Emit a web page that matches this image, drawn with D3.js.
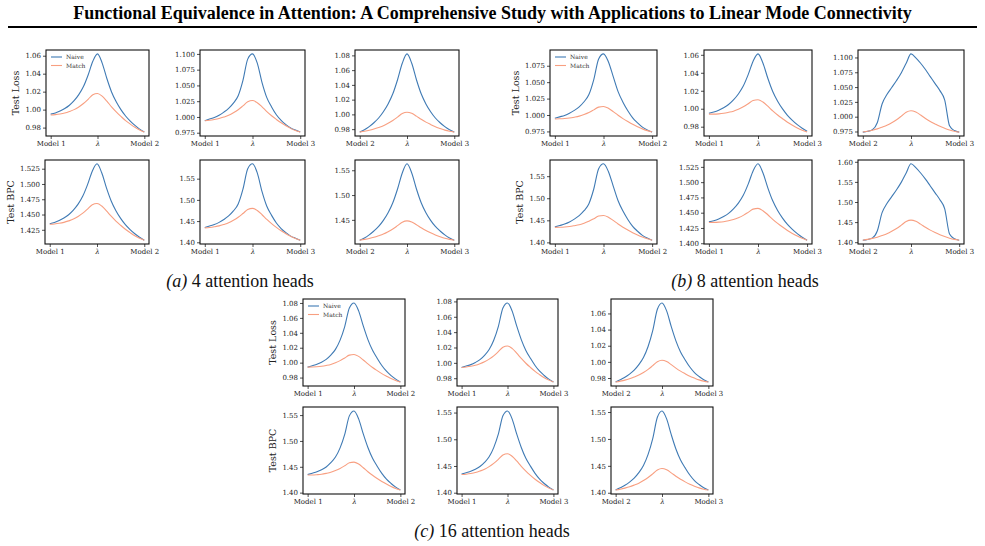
<!DOCTYPE html>
<html>
<head>
<meta charset="utf-8">
<script src="https://d3js.org/d3.v7.min.js"></script>
<style>
  body { margin: 0; background: #fff; }
  text.tk { font-family: "DejaVu Serif", serif; font-size: 7px; fill: #222; }
  text.yl { font-family: "DejaVu Serif", serif; font-size: 9.5px; fill: #222; }
  text.lg { font-family: "DejaVu Serif", serif; font-size: 6px; fill: #333; }
  text.cap { font-family: "Liberation Serif", serif; font-size: 18px; fill: #111; }
  text.ttl { font-family: "Liberation Serif", serif; font-size: 18px; font-weight: bold; fill: #000; }
</style>
</head>
<body>
<div id="chartHere"></div>
<script>
// interpolation coefficient along the path between two models
var lambdas = [0, 0.05, 0.1, 0.15, 0.2, 0.25, 0.3, 0.35, 0.4, 0.45, 0.5,
               0.55, 0.6, 0.65, 0.7, 0.75, 0.8, 0.85, 0.9, 0.95, 1];

var seriesNames = ['Naive', 'Match'];

// ---- (a) 4 attention heads ----
var a1Naive = [0.9950,0.9963,0.9984,1.0012,1.0049,1.0100,1.0167,1.0257,1.0386,1.0538,1.0620,1.0518,1.0346,1.0197,1.0087,1.0000,0.9929,0.9872,0.9824,0.9783,0.9750];
var a1Match = [0.9940,0.9944,0.9951,0.9962,0.9979,1.0000,1.0030,1.0068,1.0115,1.0166,1.0180,1.0150,1.0094,1.0031,0.9975,0.9925,0.9878,0.9839,0.9803,0.9773,0.9750];
var a2Naive = [0.9940,0.9966,0.9991,1.0028,1.0077,1.0137,1.0220,1.0337,1.0581,1.0917,1.1000,1.0853,1.0545,1.0306,1.0159,1.0035,0.9946,0.9879,0.9824,0.9792,0.9760];
var a2Match = [0.9940,0.9947,0.9959,0.9975,0.9998,1.0026,1.0066,1.0115,1.0176,1.0240,1.0260,1.0226,1.0160,1.0085,1.0019,0.9961,0.9907,0.9861,0.9819,0.9785,0.9760];
var a3Naive = [0.9760,0.9792,0.9834,0.9887,0.9951,1.0036,1.0142,1.0279,1.0470,1.0693,1.0820,1.0693,1.0470,1.0279,1.0142,1.0036,0.9951,0.9887,0.9834,0.9792,0.9760];
var a3Match = [0.9760,0.9771,0.9784,0.9801,0.9822,0.9846,0.9879,0.9917,0.9963,1.0011,1.0030,1.0014,0.9976,0.9933,0.9895,0.9863,0.9833,0.9809,0.9787,0.9771,0.9760];
var a4Naive = [1.4350,1.4370,1.4401,1.4443,1.4497,1.4572,1.4670,1.4802,1.4989,1.5210,1.5330,1.5183,1.4935,1.4721,1.4562,1.4437,1.4335,1.4254,1.4185,1.4127,1.4080];
var a4Match = [1.4340,1.4346,1.4356,1.4372,1.4396,1.4425,1.4469,1.4522,1.4589,1.4660,1.4680,1.4639,1.4560,1.4472,1.4393,1.4324,1.4259,1.4204,1.4153,1.4112,1.4080];
var a5Naive = [1.4350,1.4385,1.4419,1.4470,1.4538,1.4622,1.4739,1.4905,1.5253,1.5733,1.5850,1.5637,1.5193,1.4848,1.4635,1.4455,1.4325,1.4227,1.4146,1.4098,1.4050];
var a5Match = [1.4340,1.4350,1.4366,1.4387,1.4421,1.4461,1.4519,1.4589,1.4678,1.4772,1.4800,1.4749,1.4650,1.4539,1.4440,1.4352,1.4271,1.4202,1.4140,1.4089,1.4050];
var a6Naive = [1.4090,1.4136,1.4198,1.4275,1.4367,1.4490,1.4644,1.4845,1.5122,1.5445,1.5630,1.5445,1.5122,1.4845,1.4644,1.4490,1.4367,1.4275,1.4198,1.4136,1.4090];
var a6Match = [1.4090,1.4106,1.4125,1.4149,1.4180,1.4215,1.4262,1.4316,1.4383,1.4453,1.4480,1.4457,1.4402,1.4340,1.4285,1.4238,1.4195,1.4160,1.4129,1.4106,1.4090];

// ---- (b) 8 attention heads ----
var b1Naive = [0.9950,0.9972,0.9994,1.0027,1.0071,1.0125,1.0202,1.0311,1.0539,1.0854,1.0930,1.0811,1.0584,1.0356,1.0194,1.0064,0.9956,0.9880,0.9815,0.9772,0.9740];
var b1Match = [0.9940,0.9942,0.9946,0.9954,0.9967,0.9983,1.0008,1.0038,1.0078,1.0120,1.0130,1.0103,1.0052,0.9996,0.9945,0.9900,0.9858,0.9822,0.9789,0.9762,0.9740];
var b2Naive = [0.9950,0.9963,0.9983,1.0011,1.0047,1.0098,1.0164,1.0252,1.0379,1.0529,1.0610,1.0509,1.0339,1.0192,1.0084,0.9998,0.9927,0.9871,0.9823,0.9783,0.9750];
var b2Match = [0.9940,0.9940,0.9943,0.9949,0.9960,0.9973,0.9994,1.0021,1.0055,1.0092,1.0100,1.0074,1.0028,0.9976,0.9930,0.9889,0.9850,0.9817,0.9786,0.9760,0.9740];
var b3Naive = [0.9740,0.9753,0.9780,0.9898,1.0215,1.0374,1.0492,1.0611,1.0743,1.0902,1.1060,1.0994,1.0902,1.0796,1.0677,1.0558,1.0440,1.0281,0.9846,0.9766,0.9740];
var b3Match = [0.9740,0.9754,0.9772,0.9794,0.9823,0.9855,0.9898,0.9949,1.0010,1.0075,1.0100,1.0078,1.0028,0.9970,0.9920,0.9877,0.9837,0.9805,0.9776,0.9754,0.9740];
var b4Naive = [1.4350,1.4382,1.4415,1.4463,1.4527,1.4607,1.4718,1.4877,1.5210,1.5669,1.5780,1.5607,1.5276,1.4945,1.4709,1.4520,1.4363,1.4253,1.4159,1.4097,1.4050];
var b4Match = [1.4340,1.4342,1.4348,1.4359,1.4378,1.4400,1.4436,1.4479,1.4535,1.4596,1.4610,1.4571,1.4498,1.4417,1.4345,1.4280,1.4220,1.4168,1.4121,1.4081,1.4050];
var b5Naive = [1.4350,1.4368,1.4397,1.4437,1.4488,1.4561,1.4656,1.4784,1.4967,1.5183,1.5300,1.5153,1.4907,1.4694,1.4536,1.4411,1.4308,1.4227,1.4157,1.4098,1.4050];
var b5Match = [1.4340,1.4341,1.4345,1.4353,1.4368,1.4388,1.4418,1.4456,1.4505,1.4558,1.4570,1.4533,1.4466,1.4392,1.4325,1.4265,1.4209,1.4161,1.4117,1.4080,1.4050];
var b6Naive = [1.4050,1.4069,1.4107,1.4278,1.4734,1.4962,1.5133,1.5304,1.5494,1.5722,1.5950,1.5855,1.5722,1.5570,1.5399,1.5228,1.5057,1.4829,1.4202,1.4088,1.4050];
var b6Match = [1.4050,1.4070,1.4095,1.4125,1.4165,1.4210,1.4270,1.4340,1.4425,1.4515,1.4550,1.4520,1.4450,1.4370,1.4300,1.4240,1.4185,1.4140,1.4100,1.4070,1.4050];

// ---- (c) 16 attention heads ----
var c1Naive = [0.9940,0.9959,0.9978,1.0006,1.0044,1.0101,1.0178,1.0302,1.0484,1.0733,1.0800,1.0694,1.0492,1.0309,1.0165,1.0059,0.9962,0.9885,0.9827,0.9779,0.9740];
var c1Match = [0.9940,0.9941,0.9944,0.9951,0.9962,0.9976,0.9999,1.0027,1.0063,1.0101,1.0110,1.0084,1.0036,0.9983,0.9935,0.9893,0.9853,0.9819,0.9787,0.9761,0.9740];
var c2Naive = [0.9940,0.9959,0.9977,1.0005,1.0042,1.0098,1.0173,1.0294,1.0472,1.0715,1.0780,1.0677,1.0481,1.0303,1.0162,1.0059,0.9966,0.9891,0.9835,0.9788,0.9750];
var c2Match = [0.9940,0.9946,0.9955,0.9968,0.9988,1.0013,1.0048,1.0091,1.0145,1.0203,1.0220,1.0188,1.0126,1.0057,0.9995,0.9940,0.9889,0.9846,0.9807,0.9775,0.9750];
var c3Naive = [0.9750,0.9779,0.9809,0.9848,0.9897,0.9966,1.0054,1.0191,1.0387,1.0652,1.0730,1.0632,1.0436,1.0260,1.0122,1.0024,0.9936,0.9868,0.9819,0.9779,0.9750];
var c3Match = [0.9750,0.9761,0.9774,0.9791,0.9812,0.9836,0.9869,0.9907,0.9953,1.0001,1.0020,1.0004,0.9966,0.9923,0.9885,0.9853,0.9823,0.9799,0.9777,0.9761,0.9750];
var c4Naive = [1.4350,1.4376,1.4403,1.4443,1.4497,1.4579,1.4688,1.4866,1.5127,1.5485,1.5580,1.5427,1.5136,1.4873,1.4664,1.4511,1.4372,1.4261,1.4177,1.4106,1.4050];
var c4Match = [1.4340,1.4341,1.4347,1.4356,1.4373,1.4394,1.4427,1.4468,1.4520,1.4577,1.4590,1.4552,1.4482,1.4404,1.4335,1.4273,1.4215,1.4165,1.4119,1.4080,1.4050];
var c5Naive = [1.4350,1.4375,1.4400,1.4438,1.4490,1.4568,1.4672,1.4844,1.5095,1.5439,1.5530,1.5382,1.5101,1.4847,1.4645,1.4497,1.4363,1.4255,1.4173,1.4105,1.4050];
var c5Match = [1.4340,1.4347,1.4359,1.4377,1.4405,1.4439,1.4488,1.4549,1.4625,1.4707,1.4730,1.4683,1.4594,1.4494,1.4405,1.4326,1.4253,1.4190,1.4133,1.4086,1.4050];
var c6Naive = [1.4050,1.4094,1.4138,1.4197,1.4271,1.4373,1.4506,1.4712,1.5006,1.5402,1.5520,1.5373,1.5079,1.4814,1.4609,1.4462,1.4329,1.4226,1.4153,1.4094,1.4050];
var c6Match = [1.4050,1.4066,1.4086,1.4110,1.4142,1.4178,1.4226,1.4282,1.4350,1.4422,1.4450,1.4426,1.4370,1.4306,1.4250,1.4202,1.4158,1.4122,1.4090,1.4066,1.4050];

// tick labels
var pair12 = ['Model 1', 'λ', 'Model 2'];
var pair13 = ['Model 1', 'λ', 'Model 3'];
var pair23 = ['Model 2', 'λ', 'Model 3'];

var tLoss2 = ['0.98', '1.00', '1.02', '1.04', '1.06'];
var tLoss3 = ['0.975', '1.000', '1.025', '1.050', '1.075', '1.100'];
var tLoss4 = ['0.98', '1.00', '1.02', '1.04', '1.06', '1.08'];
var tLoss5 = ['0.975', '1.000', '1.025', '1.050', '1.075'];
var tBpc1  = ['1.425', '1.450', '1.475', '1.500', '1.525'];
var tBpc2  = ['1.40', '1.45', '1.50', '1.55'];
var tBpc3  = ['1.45', '1.50', '1.55'];
var tBpc4  = ['1.400', '1.425', '1.450', '1.475', '1.500', '1.525'];
var tBpc5  = ['1.40', '1.45', '1.50', '1.55', '1.60'];

var captions = [
  { pre: '(a)', rest: ' 4 attention heads', x: 240, y: 287 },
  { pre: '(b)', rest: ' 8 attention heads', x: 745, y: 287 },
  { pre: '(c)', rest: ' 16 attention heads', x: 492, y: 537 }
];

var titleText = 'Functional Equivalence in Attention: A Comprehensive Study with Applications to Linear Mode Connectivity';

function render()
{
    var W = 985, H = 546;
    var blue = '#3f7ab4', salmon = '#f89f81';

    var svg = d3.select('#chartHere').append('svg')
        .attr('width', W).attr('height', H);

    svg.append('text').attr('class', 'ttl')
        .attr('x', W / 2).attr('y', 19)
        .attr('text-anchor', 'middle')
        .text(titleText);
    svg.append('line')
        .attr('x1', 8).attr('x2', 977).attr('y1', 27).attr('y2', 27)
        .attr('stroke', '#000').attr('stroke-width', 2);

    // frame boxes: [left, right], [top, bottom]
    var r1 = [50, 136], r2 = [160, 244], r3 = [299, 386], r4 = [407, 494];
    var panels = [
      { n: a1Naive, m: a1Match, t: tLoss2, xl: pair12, yl: 'Test Loss', lg: true, x: [46, 149], y: r1 },
      { n: a2Naive, m: a2Match, t: tLoss3, xl: pair13, x: [200, 305], y: r1 },
      { n: a3Naive, m: a3Match, t: tLoss4, xl: pair23, x: [355, 459], y: r1 },
      { n: a4Naive, m: a4Match, t: tBpc1,  xl: pair12, yl: 'Test BPC', x: [45, 149], y: r2 },
      { n: a5Naive, m: a5Match, t: tBpc2,  xl: pair13, x: [200, 305], y: r2 },
      { n: a6Naive, m: a6Match, t: tBpc3,  xl: pair23, x: [355, 459], y: r2 },

      { n: b1Naive, m: b1Match, t: tLoss5, xl: pair12, yl: 'Test Loss', lg: true, x: [550, 657], y: r1 },
      { n: b2Naive, m: b2Match, t: tLoss2, xl: pair13, x: [704, 812], y: r1 },
      { n: b3Naive, m: b3Match, t: tLoss3, xl: pair23, x: [858, 964], y: r1 },
      { n: b4Naive, m: b4Match, t: tBpc2,  xl: pair12, yl: 'Test BPC', x: [550, 657], y: r2 },
      { n: b5Naive, m: b5Match, t: tBpc4,  xl: pair13, x: [704, 812], y: r2 },
      { n: b6Naive, m: b6Match, t: tBpc5,  xl: pair23, x: [858, 964], y: r2 },

      { n: c1Naive, m: c1Match, t: tLoss4, xl: pair12, yl: 'Test Loss', lg: true, x: [303, 405], y: r3 },
      { n: c2Naive, m: c2Match, t: tLoss4, xl: pair13, x: [457, 558], y: r3 },
      { n: c3Naive, m: c3Match, t: tLoss2, xl: pair23, x: [611, 713], y: r3 },
      { n: c4Naive, m: c4Match, t: tBpc2,  xl: pair12, yl: 'Test BPC', x: [303, 405], y: r4 },
      { n: c5Naive, m: c5Match, t: tBpc2,  xl: pair13, x: [457, 558], y: r4 },
      { n: c6Naive, m: c6Match, t: tBpc2,  xl: pair23, x: [611, 713], y: r4 }
    ];

    panels.forEach(function (p) {
        var g = svg.append('g');
        var xs = d3.scaleLinear().domain([-0.05, 1.05]).range(p.x);
        var ext = d3.extent(p.n.concat(p.m));
        var pad = (ext[1] - ext[0]) * 0.05;
        var ys = d3.scaleLinear().domain([ext[0] - pad, ext[1] + pad]).range([p.y[1], p.y[0]]);

        var yAxis = d3.axisLeft(ys)
            .tickValues(p.t.map(Number))
            .tickFormat(function (d, i) { return p.t[i]; })
            .tickSize(3).tickPadding(2);
        var ya = g.append('g').attr('transform', 'translate(' + p.x[0] + ',0)').call(yAxis);

        var xAxis = d3.axisBottom(xs)
            .tickValues([0, 0.5, 1])
            .tickFormat(function (d, i) { return p.xl[i]; })
            .tickSize(3).tickPadding(2);
        var xa = g.append('g').attr('transform', 'translate(0,' + p.y[1] + ')').call(xAxis);

        [ya, xa].forEach(function (a) {
            a.select('.domain').remove();
            a.selectAll('.tick line').attr('stroke', '#222').attr('stroke-width', 0.8);
            a.selectAll('.tick text').attr('class', 'tk').attr('font-size', null).attr('font-family', null);
        });
        xa.selectAll('.tick text').filter(function (d) { return d === 0.5; })
            .style('font-style', 'italic');

        var line = d3.line()
            .curve(d3.curveMonotoneX)
            .x(function (d, i) { return xs(lambdas[i]); })
            .y(function (d) { return ys(d); });

        g.append('path').datum(p.n).attr('d', line)
            .attr('fill', 'none').attr('stroke', blue).attr('stroke-width', 1.1);
        g.append('path').datum(p.m).attr('d', line)
            .attr('fill', 'none').attr('stroke', salmon).attr('stroke-width', 1.1);

        g.append('rect')
            .attr('x', p.x[0]).attr('y', p.y[0])
            .attr('width', p.x[1] - p.x[0]).attr('height', p.y[1] - p.y[0])
            .attr('fill', 'none').attr('stroke', '#111').attr('stroke-width', 1.1);

        if (p.yl) {
            var minX = d3.min(ya.selectAll('.tick text').nodes(), function (n) { return n.getBBox().x; });
            var lx = p.x[0] + minX - 6;
            var ly = (p.y[0] + p.y[1]) / 2;
            g.append('text').attr('class', 'yl')
                .attr('transform', 'translate(' + lx + ',' + ly + ') rotate(-90)')
                .attr('text-anchor', 'middle')
                .text(p.yl);
        }

        if (p.lg) {
            [blue, salmon].forEach(function (c, k) {
                var yy = p.y[0] + 7 + k * 8.5;
                g.append('line')
                    .attr('x1', p.x[0] + 5).attr('x2', p.x[0] + 16)
                    .attr('y1', yy).attr('y2', yy)
                    .attr('stroke', c).attr('stroke-width', 1.1);
                g.append('text').attr('class', 'lg')
                    .attr('x', p.x[0] + 20).attr('y', yy + 2)
                    .text(seriesNames[k]);
            });
        }
    });

    captions.forEach(function (c) {
        var t = svg.append('text').attr('class', 'cap')
            .attr('x', c.x).attr('y', c.y).attr('text-anchor', 'middle');
        t.append('tspan').style('font-style', 'italic').text(c.pre);
        t.append('tspan').text(c.rest);
    });
}

render();
</script>
</body>
</html>
